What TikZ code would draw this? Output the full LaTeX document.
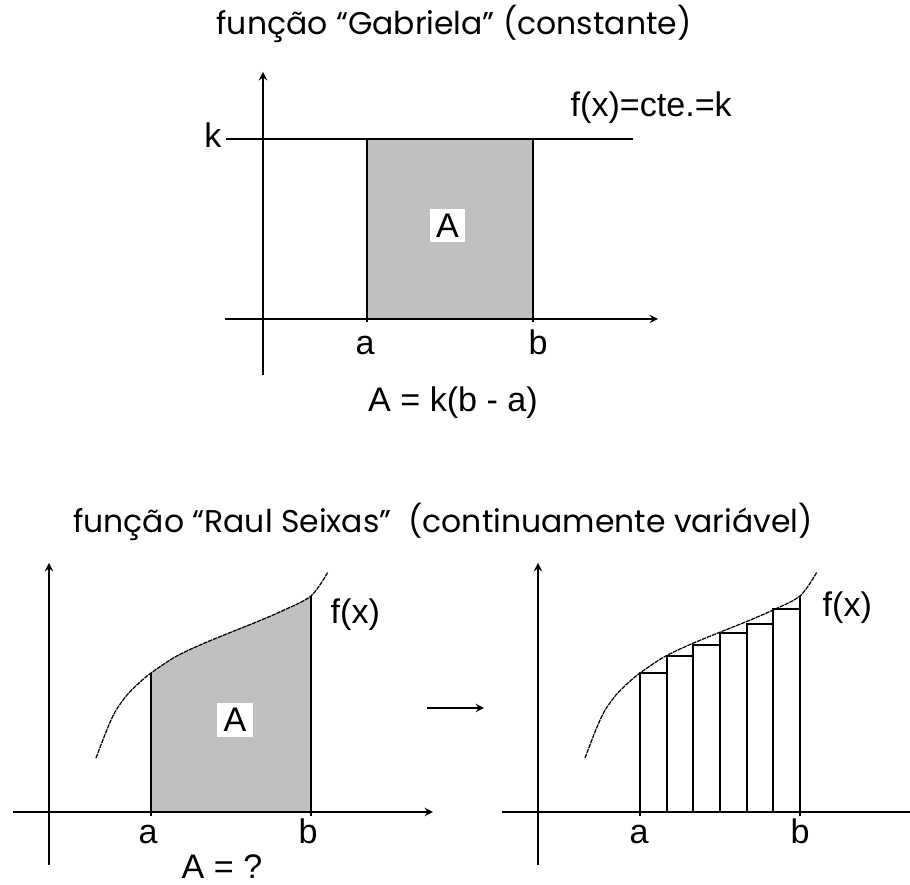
\documentclass[tikz,border=0pt]{standalone}
\usepackage{fontspec}
\setmainfont{Liberation Sans}
\newfontfamily\titlefont{Poppins}
\definecolor{areagray}{RGB}{192,192,192}
\newcommand{\lblsz}{\fontsize{19.4}{23}\selectfont}
\newcommand{\ttlsz}{\titlefont\fontsize{17.9}{21}\selectfont}
% the curve f(x), in the local units of one panel
\newcommand{\fpath}[2]{\path[#1] plot[smooth] coordinates {(47,54) (57,80) (66,100) (78,117) (90,129) (102,139) (126,155) (151,167) (180,179) (205,189) (233,201) (262,216) (279,240)} #2;}

\begin{document}
\begin{tikzpicture}[x=0.02cm, y=0.02cm, line width=1.1pt,
  axis/.style={->, >=stealth, line width=1.1pt},
  curve/.style={line width=0.7pt, dash pattern=on 2.5pt off 0.5pt},
  lbl/.style={font=\lblsz, inner sep=1pt},
  boxlbl/.style={font=\lblsz, fill=white, inner xsep=3.5pt, inner ysep=2.8pt},
  title/.style={font=\ttlsz, inner sep=0pt}]
  \useasboundingbox (0,0) rectangle (910,885);

  \node[title, anchor=base] (ttlGab) at (454,850) {função “Gabriela” (constante)};
  \node[title, anchor=base] (ttlRaul) at (443,352) {função “Raul Seixas”\ \ (continuamente variável)};

  % constante
  \begin{scope}[shift={(263,566)}]
    \fill[areagray] (104,0) rectangle (270,180);
    \draw[axis] (-38,0) -- (395,0);
    \draw[axis] (0,-56) -- (0,247);
    \draw (-37,180) -- (370,180);
    \draw (104,-3) -- (104,180);
    \draw (270,-3) -- (270,180);
    \node[boxlbl] (areaGab) at (184.5,93.5) {A};
    \node[lbl, anchor=base] (kGab) at (-50,171) {k};
    \node[lbl, anchor=base] (aGab) at (102,-36) {a};
    \node[lbl, anchor=base] (bGab) at (275,-36) {b};
    \node[lbl, anchor=base west] (fGab) at (305,202) {f(x)=cte.=k};
    \node[lbl, anchor=base] (resGab) at (190,-93) {A = k(b - a)};
  \end{scope}

  % area sob a curva
  \begin{scope}[shift={(49,73)}]
    \begin{scope}
      \clip (102,0) rectangle (262,300);
      \fpath{fill=areagray}{-- (279,0) -- (47,0) -- cycle}
    \end{scope}
    \draw[axis] (-36,0) -- (384,0);
    \draw[axis] (0,-53) -- (0,249);
    \fpath{draw, curve}{}
    \draw (102,-4) -- (102,139);
    \draw (262,-4) -- (262,216);
    \node[boxlbl] (areaRaul) at (186,92) {A};
    \node[lbl, anchor=base] (aRaul) at (99,-32) {a};
    \node[lbl, anchor=base] (bRaul) at (259,-32) {b};
    \node[lbl, anchor=base west] (fRaul) at (279,188) {f(x)};
    \node[lbl, anchor=base] (resRaul) at (173,-67) {A = ?};
  \end{scope}

  \coordinate (arrL) at (427,177);
  \coordinate (arrR) at (484,177);
  \draw[axis] (arrL) -- (arrR);

  % retangulos
  \begin{scope}[shift={(538,73)}]
    \draw[axis] (0,-53) -- (0,249);
    \draw (-36,0) -- (372,0);
    \foreach \i/\h in {0/139,1/156,2/167,3/179,4/188,5/203}
      \draw (102+26.67*\i,0) rectangle ++(26.67,\h);
    \draw (102,-4) -- (102,0);
    \draw (262,-4) -- (262,216);
    \fpath{draw, curve}{}
    \node[lbl, anchor=base] (aRet) at (101,-32) {a};
    \node[lbl, anchor=base] (bRet) at (262,-32) {b};
    \node[lbl, anchor=base west] (fRet) at (282,195) {f(x)};
  \end{scope}
\end{tikzpicture}
\end{document}
